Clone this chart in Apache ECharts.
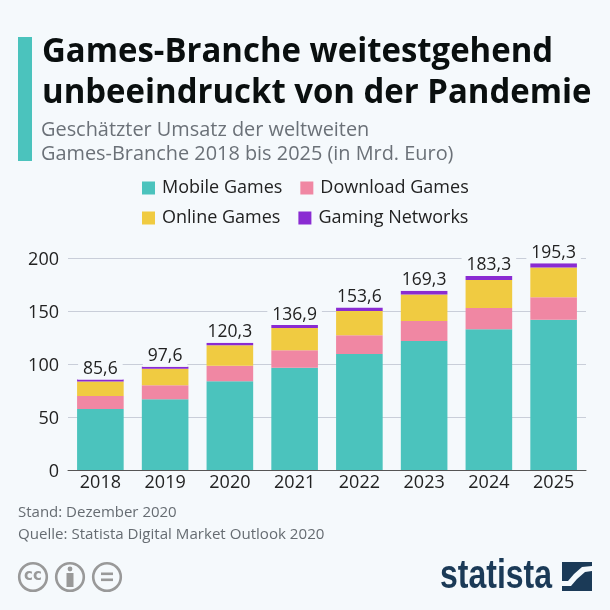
<!DOCTYPE html>
<html><head><meta charset="utf-8">
<style>html,body{margin:0;padding:0;background:#f5f9fc}#c{width:610px;height:610px}</style>
<script src="https://cdn.jsdelivr.net/npm/echarts@6/dist/echarts.min.js"></script>
</head><body><div id="c"></div>
<script>
const years=['2018','2019','2020','2021','2022','2023','2024','2025'];
const mobile=[57.6,66.8,83.8,96.7,109.6,121.9,132.9,142.0];
const download=[12.3,13.2,14.8,16.4,17.6,18.9,20.2,21.1];
const online=[13.6,15.7,19.2,21.1,23.0,24.9,26.4,28.1];
const networks=[2.1,1.9,2.5,2.7,3.4,3.6,3.8,4.1];
const totals=['85,6','97,6','120,3','136,9','153,6','169,3','183,3','195,3'];
const FONT='"Open Sans"';
const BG='#f5f9fc';
const txt=(x,y,t,size,color,weight,extra)=>({type:'text',left:x,top:y,style:Object.assign({text:t,font:`${weight||400} ${size}px ${FONT}`,fill:color},extra||{})});
const chart=echarts.init(document.getElementById('c'),null,{renderer:'canvas'});
const bar=(name,data,color,extra)=>Object.assign({name,type:'bar',stack:'t',data,barWidth:46.6,itemStyle:{color},emphasis:{disabled:true}},extra||{});
const legendBase={icon:'rect',itemWidth:13,itemHeight:13,itemGap:18,textStyle:{fontFamily:FONT,fontSize:18,color:'#222',padding:[0,0,0,2]},selectedMode:false,padding:0};
const titleText=(y,t)=>({type:'text',x:42,y,scaleX:0.968,style:{text:t,font:`700 34px ${FONT}`,fill:'#0a0f0f',verticalAlign:'middle'}});
chart.setOption({
 animation:false,backgroundColor:BG,
 color:['#4bc3bd','#f087a3','#f0cb41','#8a2bd2'],
 legend:[
  Object.assign({},legendBase,{left:142,top:179,data:['Mobile Games','Download Games']}),
  Object.assign({},legendBase,{left:142,top:209,data:['Online Games','Gaming Networks']})
 ],
 grid:{left:68,right:24,top:258.3,bottom:140,containLabel:false},
 xAxis:{type:'category',data:years,axisTick:{show:false},axisLine:{lineStyle:{color:'#555',width:1}},
  axisLabel:{fontFamily:FONT,fontSize:18,color:'#222',margin:4}},
 yAxis:{type:'value',min:0,max:200,interval:50,axisLine:{show:false},axisTick:{show:false},
  splitLine:{lineStyle:{color:'#c9ced9',width:1}},
  axisLabel:{fontFamily:FONT,fontSize:18,color:'#222',margin:9,lineHeight:3,verticalAlign:'top'}},
 series:[
  bar('Mobile Games',mobile,'#4bc3bd'),
  bar('Download Games',download,'#f087a3'),
  bar('Online Games',online,'#f0cb41'),
  bar('Gaming Networks',networks,'#8a2bd2',{label:{show:true,position:'top',distance:0,
    formatter:p=>totals[p.dataIndex],fontFamily:FONT,fontSize:17.5,color:'#222',backgroundColor:BG,padding:[0,5,0,5],lineHeight:21}})
 ],
 graphic:[
  {type:'rect',left:18,top:37,shape:{width:14,height:124},style:{fill:'#4bc3bd'}},
  titleText(52,'Games-Branche weitestgehend'),
  titleText(93,'unbeeindruckt von der Pandemie'),
  txt(41,120,'Geschätzter Umsatz der weltweiten',19.9,'#6b7178',400),
  txt(41,144,'Games-Branche 2018 bis 2025 (in Mrd. Euro)',19.9,'#6b7178',400),
  txt(18,505,'Stand: Dezember 2020',15,'#666c72',400),
  txt(18,527,'Quelle: Statista Digital Market Outlook 2020',15.1,'#666c72',400),
  // CC badges
  {type:'circle',shape:{cx:33,cy:577,r:13.8},style:{fill:'none',stroke:'#999',lineWidth:2.6}},
  {type:'text',x:33,y:576,style:{text:'cc',font:'700 15px "DejaVu Sans"',fill:'#999',align:'center',verticalAlign:'middle'}},
  {type:'circle',shape:{cx:70,cy:577,r:13.8},style:{fill:'none',stroke:'#999',lineWidth:2.6}},
  {type:'circle',shape:{cx:70,cy:569,r:2.4},style:{fill:'#999'}},
  {type:'rect',shape:{x:66.5,y:573,width:7,height:14},style:{fill:'#999'}},
  {type:'circle',shape:{cx:107,cy:577,r:13.8},style:{fill:'none',stroke:'#999',lineWidth:2.6}},
  {type:'rect',shape:{x:101,y:572.5,width:12,height:2.6},style:{fill:'#999'}},
  {type:'rect',shape:{x:101,y:578.5,width:12,height:2.6},style:{fill:'#999'}},
  // logo
  {type:'text',x:440,y:577,scaleX:0.8,style:{text:'statista',font:'700 40px "Liberation Sans"',fill:'#1b3a57',align:'left',verticalAlign:'middle'}},
  {type:'polygon',shape:{points:[[562,562],[592,562],[592,566],[582,567],[574,574],[568,581],[562,581]]},style:{fill:'#1b3a57'}},
  {type:'polygon',shape:{points:[[592,571],[585,572],[577,579],[571,586],[562,586],[562,591],[592,591]]},style:{fill:'#1b3a57'}}
 ]
});
</script></body></html>
